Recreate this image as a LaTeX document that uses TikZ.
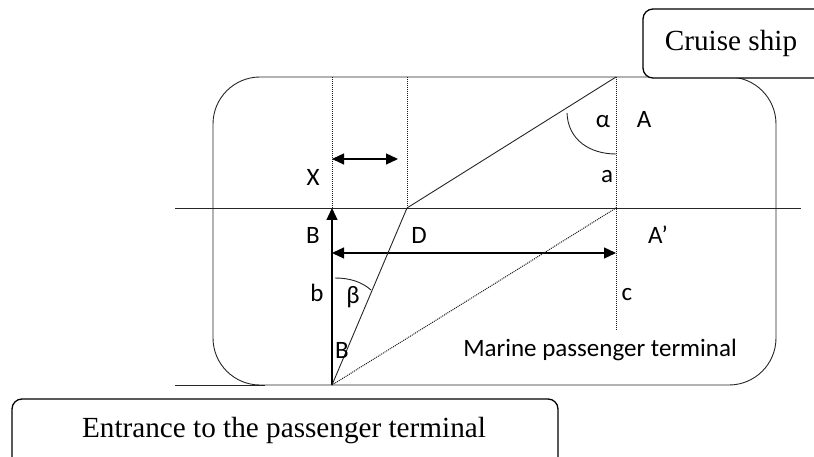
\documentclass[tikz,border=0pt]{standalone}
\usepackage{fontspec}
\setmainfont{Liberation Serif}
\newfontfamily\lbl{Carlito}
\usetikzlibrary{arrows.meta}
\tikzset{
  thinline/.style={line width=0.9pt, draw=black!85},
  dotline/.style={line width=1pt, draw=black!90, dash pattern=on 1pt off 1pt},
  arrowline/.style={line width=1.3pt, draw=black},
  tip/.style={-{Triangle[length=12pt,width=11pt]}},
  tips/.style={{Triangle[length=12pt,width=11pt]}-{Triangle[length=12pt,width=11pt]}},
  lab/.style={font=\lbl\fontsize{25}{28}\selectfont, inner sep=0pt},
  boxnode/.style={draw=black, line width=1.3pt, rounded corners=10pt, fill=white},
  boxtext/.style={font=\fontsize{29.2}{32}\selectfont, inner sep=0pt}
}
\begin{document}
\begin{tikzpicture}[x=1pt,y=-1pt]
\useasboundingbox (0,0) rectangle (814,457);
% terminal outline
\draw[thinline, rounded corners=47pt] (213,77) rectangle (776,385);
\coordinate (ext) at (175,385);
\coordinate (extend) at (265,385);
\draw[thinline] (ext) -- (extend);
% horizontal line
\coordinate (hl) at (175,208);
\coordinate (hr) at (801,208);
\draw[thinline] (hl) -- (hr);
% key points
\coordinate (Xt) at (332,77);
\coordinate (Bt) at (332,208);
\coordinate (Dt) at (407,77);
\coordinate (Dp) at (407,208);
\coordinate (At) at (616,77);
\coordinate (Ap) at (616,208);
\coordinate (Ab) at (616,330);
\coordinate (P) at (332,385);
% dotted verticals
\draw[dotline] (Xt) -- (Bt);
\draw[dotline] (Dt) -- (Dp);
\draw[dotline] (At) -- (Ab);
% X double arrow
\coordinate (x1) at (332,159);
\coordinate (x2) at (398,159);
\draw[arrowline, tips] (x1) -- (x2);
% vertical arrow B
\draw[arrowline, tip] (P) -- (Bt);
% D double arrow
\coordinate (d1) at (332,253);
\coordinate (d2) at (616,253);
\draw[arrowline, tips] (d1) -- (d2);
% slanted lines
\draw[thinline] (Dp) -- (At);
\draw[thinline] (P) -- (Dp);
\draw[dotline] (P) -- (Ap);
% angle arcs
\draw[thinline] (567,113) .. controls (568,140) and (590,154) .. (616,154);
\draw[thinline] (335,278) .. controls (350,278) and (362,282) .. (371,290);
% labels
\node[lab] (lX) at (313,177) {X};
\node[lab] (lal) at (603,122) {α};
\node[lab] (lA) at (644,119) {A};
\node[lab] (la) at (607,177) {a};
\node[lab] (lB1) at (313,235) {B};
\node[lab] (lD) at (419,235) {D};
\node[lab] (lb) at (317,293) {b};
\node[lab] (lbe) at (353,297) {β};
\node[lab] (lB2) at (342,350) {B};
\node[lab] (lAp) at (658,235) {A’};
\node[lab] (lc) at (627,295) {c};
\node[lab] (lM) at (600,350) {Marine passenger terminal};
% boxes
\draw[boxnode] (643,9) rectangle (840,78);
\node[boxtext] (cs) at (731,43) {Cruise ship};
\draw[boxnode] (12,399) rectangle (558,470);
\node[boxtext] (ent) at (284,431) {Entrance to the passenger terminal};
\end{tikzpicture}
\end{document}
